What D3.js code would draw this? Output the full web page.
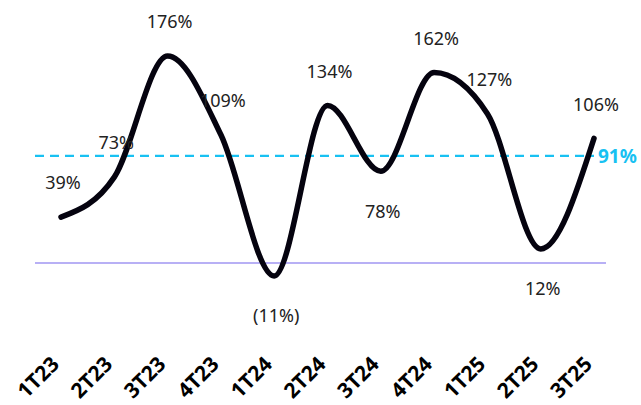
<!DOCTYPE html>
<html>
<head>
<meta charset="utf-8">
<script src="https://cdn.jsdelivr.net/npm/d3@7"></script>
<style>
  body { margin: 0; background: #fff; }
  svg { display: block; font-family: "Noto Sans", "Open Sans", sans-serif; }
  .val { font-size: 18px; fill: #222; }
  .xlab { font-size: 21px; font-weight: 700; fill: #000; }
</style>
</head>
<body>
<div id="chart"></div>
<script>
var quarters = ["1T23","2T23","3T23","4T23","1T24","2T24","3T24","4T24","1T25","2T25","3T25"];
var values = [39, 73, 176, 109, -11, 134, 78, 162, 127, 12, 106];
var labels = ["39%","73%","176%","109%","(11%)","134%","78%","162%","127%","12%","106%"];
var below = [false, false, false, false, true, false, true, false, false, true, false];
var average = 91;

var width = 641, height = 405;
var svg = d3.select("#chart").append("svg").attr("width", width).attr("height", height);

var x = d3.scalePoint().domain(quarters).range([61, 594]);
var y = d3.scaleLinear().domain([0, 176]).range([263, 56]);

// baseline at zero
svg.append("line")
    .attr("x1", 35).attr("x2", 606)
    .attr("y1", y(0)).attr("y2", y(0))
    .style("stroke", "#b8b0f5").style("stroke-width", 2);

// average dashed line
svg.append("line")
    .attr("x1", 35).attr("x2", 594)
    .attr("y1", y(average)).attr("y2", y(average))
    .style("stroke", "#18c1f2").style("stroke-width", 2.2)
    .style("stroke-dasharray", "9,6");

svg.append("text")
    .attr("x", 598).attr("y", y(average)).attr("dy", "0.35em")
    .style("font-size", "19px").style("font-weight", 700).style("fill", "#18c1f2")
    .text(average + "%");

var line = d3.line()
    .x(function(d, i){ return x(quarters[i]); })
    .y(function(d){ return y(d); })
    .curve(d3.curveMonotoneX);

svg.append("path")
    .datum(values)
    .attr("d", line)
    .style("fill", "none").style("stroke", "#05030f")
    .style("stroke-width", 5.5).style("stroke-linecap", "round");

svg.selectAll("text.val").data(values).enter().append("text")
    .attr("class", "val")
    .attr("text-anchor", "middle")
    .attr("x", function(d, i){ return x(quarters[i]) + 2; })
    .attr("y", function(d, i){ return below[i] ? y(d) + 40 : y(d) - 34; })
    .attr("dy", "0.35em")
    .text(function(d, i){ return labels[i]; });

svg.selectAll("text.xlab").data(quarters).enter().append("text")
    .attr("class", "xlab")
    .attr("text-anchor", "end")
    .attr("transform", function(d){ return "translate(" + (x(d) - 11) + ",355) rotate(-45)"; })
    .attr("dy", "0.7em")
    .text(function(d){ return d; });
</script>
</body>
</html>
